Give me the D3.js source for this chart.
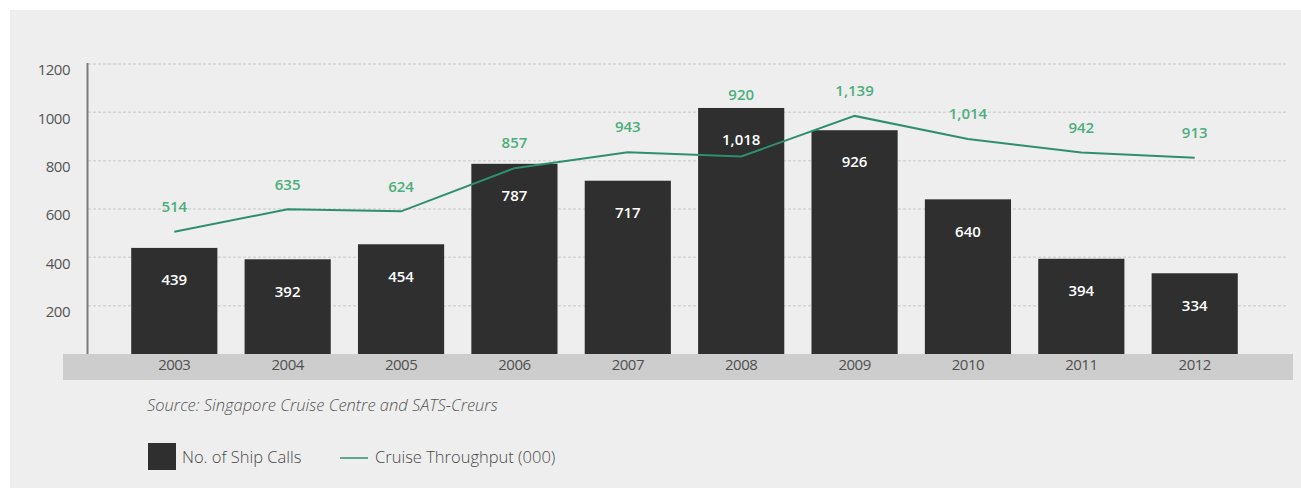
<!DOCTYPE html>
<html>
<head>
<meta charset="utf-8">
<script src="https://cdn.jsdelivr.net/npm/d3@7/dist/d3.min.js"></script>
<style>
  html, body { margin: 0; padding: 0; background: #ffffff; }
  svg { display: block; }
  text { font-family: "Open Sans", "Noto Sans", sans-serif; }
</style>
</head>
<body>
<svg id="chart" width="1301" height="488"></svg>
<script>
// Singapore cruise traffic, 2003–2012
const years = ["2003", "2004", "2005", "2006", "2007", "2008", "2009", "2010", "2011", "2012"];
const shipCalls = [439, 392, 454, 787, 717, 1018, 926, 640, 394, 334];
const throughput = [514, 635, 624, 857, 943, 920, 1139, 1014, 942, 913];
const yTicks = [200, 400, 600, 800, 1000, 1200];

const fmt = d3.format(",");

const svg = d3.select("#chart");

// panel background
svg.append("rect")
  .attr("x", 10).attr("y", 10)
  .attr("width", 1291).attr("height", 478)
  .attr("fill", "#eeeeee");

const x = d3.scaleBand()
  .domain(years)
  .range([104, 1265])
  .paddingInner(0.24)
  .paddingOuter(0.24);

const y = d3.scaleLinear().domain([0, 1200]).range([354, 64]);
// secondary scale for the throughput line (not drawn as an axis)
const y2 = d3.scaleLinear().domain([0, 1500]).range([327, 49]);

// grid lines
svg.append("g")
  .selectAll("line")
  .data(yTicks)
  .join("line")
  .attr("x1", 88).attr("x2", 1286)
  .attr("y1", d => y(d)).attr("y2", d => y(d))
  .attr("stroke", "#d4d4d4")
  .attr("stroke-width", 1.5)
  .attr("stroke-dasharray", "3 2");

// left axis (labels only + vertical rule)
const yAxis = d3.axisLeft(y).tickValues(yTicks).tickFormat(d3.format("d")).tickSize(0).tickPadding(0);
const gy = svg.append("g").attr("transform", "translate(70,6)").call(yAxis);
gy.select(".domain").remove();
gy.selectAll("text")
  .attr("fill", "#555555")
  .style("font-size", "15px")
  .style("letter-spacing", "-0.5px");

svg.append("line")
  .attr("x1", 87.5).attr("x2", 87.5)
  .attr("y1", y(1200) - 1).attr("y2", y(0))
  .attr("stroke", "#7a7a7a")
  .attr("stroke-width", 2);

// category band under the plot
svg.append("rect")
  .attr("x", 63).attr("y", y(0))
  .attr("width", 1230).attr("height", 26)
  .attr("fill", "#cdcdcd");

const xAxis = d3.axisBottom(x).tickSize(0).tickPadding(0);
const gx = svg.append("g").attr("transform", `translate(0,${y(0) + 5})`).call(xAxis);
gx.select(".domain").remove();
gx.selectAll("text")
  .attr("fill", "#505050")
  .style("font-size", "15px")
  .style("letter-spacing", "-0.5px");

// bars
svg.append("g")
  .selectAll("rect")
  .data(shipCalls)
  .join("rect")
  .attr("x", (d, i) => x(years[i]))
  .attr("y", d => y(d))
  .attr("width", x.bandwidth())
  .attr("height", d => y(0) - y(d))
  .attr("fill", "#2f2f2f");

svg.append("g")
  .selectAll("text")
  .data(shipCalls)
  .join("text")
  .attr("x", (d, i) => x(years[i]) + x.bandwidth() / 2)
  .attr("y", d => y(d) + 32)
  .attr("dy", "0.35em")
  .attr("text-anchor", "middle")
  .attr("fill", "#ffffff")
  .style("font-size", "15px")
  .style("font-weight", "600")
  .text(d => fmt(d));

// throughput line
const line = d3.line()
  .x((d, i) => x(years[i]) + x.bandwidth() / 2)
  .y(d => y2(d));

svg.append("path")
  .datum(throughput)
  .attr("d", line)
  .attr("fill", "none")
  .attr("stroke", "#2f8f6c")
  .attr("stroke-width", 2);

svg.append("g")
  .selectAll("text")
  .data(throughput)
  .join("text")
  .attr("x", (d, i) => x(years[i]) + x.bandwidth() / 2)
  .attr("y", (d, i) => Math.min(y2(d) - 25, y(shipCalls[i]) - 13))
  .attr("dy", "0.35em")
  .attr("text-anchor", "middle")
  .attr("fill", "#4cae7c")
  .style("font-size", "15px")
  .style("font-weight", "600")
  .text(d => fmt(d));

// source note
svg.append("text")
  .attr("x", 147).attr("y", 405)
  .attr("dy", "0.35em")
  .attr("fill", "#555555")
  .style("font-size", "16.5px")
  .style("font-style", "italic")
  .style("font-weight", "300")
  .text("Source: Singapore Cruise Centre and SATS-Creurs");

// legend
svg.append("rect")
  .attr("x", 148).attr("y", 443)
  .attr("width", 28).attr("height", 27)
  .attr("fill", "#2f2f2f");
svg.append("text")
  .attr("x", 182).attr("y", 457)
  .attr("dy", "0.35em")
  .attr("fill", "#4a4a4a")
  .style("font-size", "16.5px")
  .style("font-weight", "300")
  .text("No. of Ship Calls");
svg.append("line")
  .attr("x1", 340).attr("x2", 368)
  .attr("y1", 458).attr("y2", 458)
  .attr("stroke", "#2f8f6c")
  .attr("stroke-width", 1.5);
svg.append("text")
  .attr("x", 375).attr("y", 457)
  .attr("dy", "0.35em")
  .attr("fill", "#4a4a4a")
  .style("font-size", "16.5px")
  .style("font-weight", "300")
  .text("Cruise Throughput (000)");
</script>
</body>
</html>
